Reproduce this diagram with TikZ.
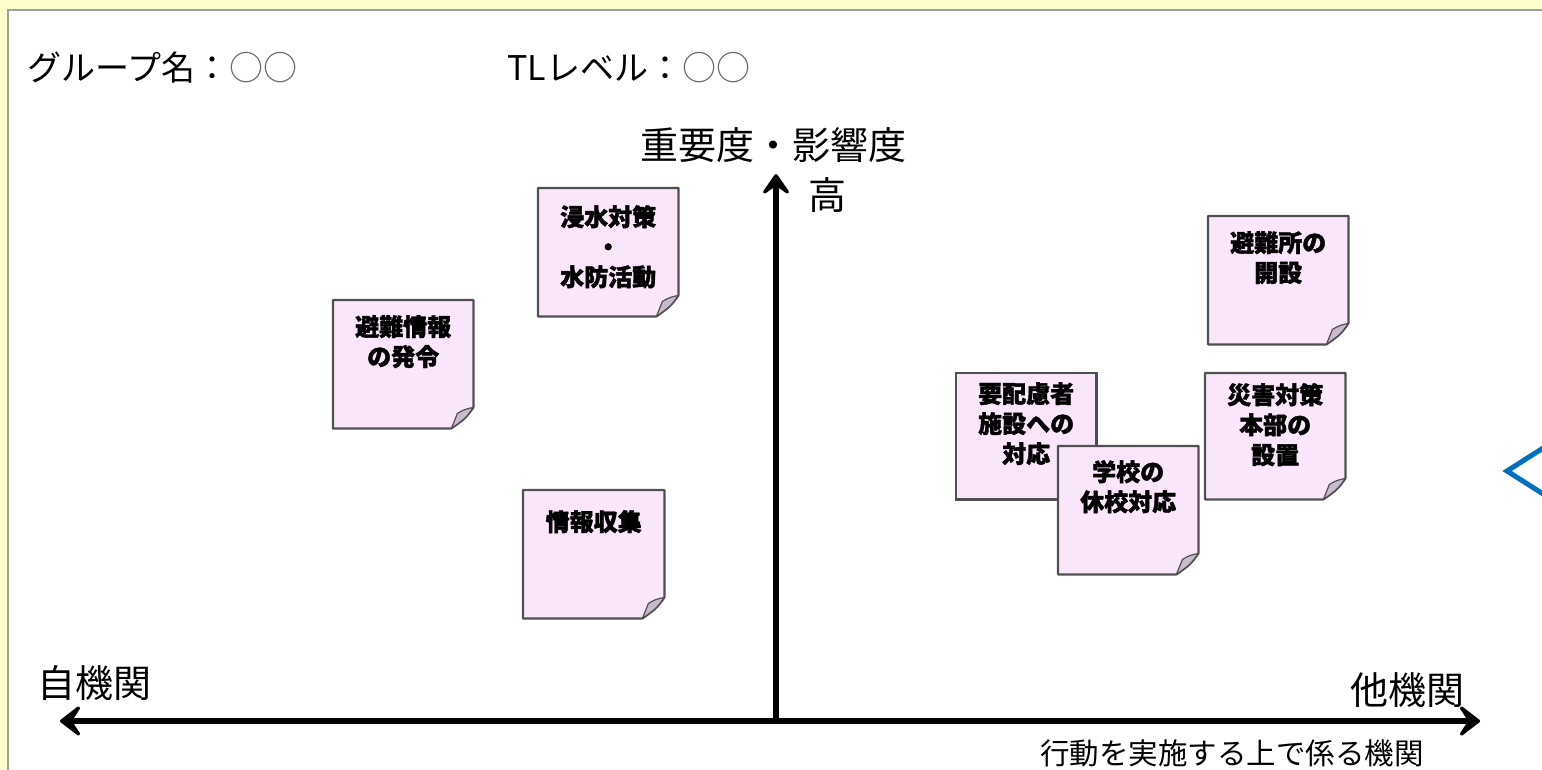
\documentclass[tikz,border=0pt]{standalone}
\usepackage{fontspec}
\setmainfont{Noto Sans CJK JP}
\newfontfamily\notefont{Noto Sans CJK JP}[BoldFeatures={FakeBold=1.6}]
\usetikzlibrary{arrows.meta,calc}
\definecolor{bgyellow}{HTML}{FFFFCC}
\definecolor{framegray}{HTML}{A0A0A0}
\definecolor{notefill}{HTML}{F9E6FA}
\definecolor{noteline}{HTML}{505050}
\definecolor{flapfill}{HTML}{C9B9CC}
\definecolor{chevblue}{HTML}{0070C0}
\definecolor{circgray}{HTML}{6A6A6A}
\tikzset{
  notebox/.style={draw=none,inner sep=0,anchor=north west},
  notetext/.style={anchor=north,inner sep=0,align=center,font=\notefont\bfseries\fontsize{24}{30}\selectfont},
  headtext/.style={inner sep=0,font=\fontsize{34}{40}\selectfont},
  axislabel/.style={inner sep=0,font=\fontsize{38}{44}\selectfont},
  axisline/.style={line width=6.5pt,{Stealth[length=26pt,width=40pt,inset=13pt,round]}-{Stealth[length=26pt,width=40pt,inset=13pt,round]}},
  axisup/.style={line width=6.5pt,-{Stealth[length=26pt,width=36pt,inset=13pt,round]}}
}
\newcommand{\stickyshape}[1]{%
  \filldraw[fill=notefill,draw=noteline,line width=2.2pt,line join=round]
    (#1.north west) -- (#1.north east) -- ($(#1.south east)+(0,-21)$)
    .. controls ($(#1.south east)+(-8,-10)$) .. ($(#1.south east)+(-22,0)$)
    -- (#1.south west) -- cycle;
  \filldraw[fill=flapfill,draw=noteline,line width=1.2pt,line join=round]
    ($(#1.south east)+(0,-21)$) .. controls ($(#1.south east)+(-9,-19)$) .. ($(#1.south east)+(-16,-15)$)
    -- ($(#1.south east)+(-22,0)$)
    .. controls ($(#1.south east)+(-8,-10)$) .. cycle;
}
\begin{document}
\begin{tikzpicture}[x=1pt,y=-1pt]
\useasboundingbox (0,0) rectangle (1542,769);
\fill[bgyellow] (0,0) rectangle (1542,769);
\fill[white] (8,10) rectangle (1560,790);
\draw[framegray,line width=2pt] (8,790) -- (8,10) -- (1560,10);

% header
\node[headtext,anchor=west] (grp) at (27,68) {グループ名：\textcolor{circgray}{○○}};
\node[headtext,anchor=west] (tl) at (507,68) {TLレベル：\textcolor{circgray}{○○}};

% axes
\coordinate (origin) at (776,721);
\coordinate (left) at (60,721);
\coordinate (right) at (1480,721);
\coordinate (top) at (776,174);
\draw[axisline] (left) -- (right);
\draw[axisup] (origin) -- (top);

\node[axislabel] (imp) at (773,145) {重要度・影響度};
\node[axislabel] (high) at (827,195) {高};
\node[axislabel] (own) at (94,683) {自機関};
\node[axislabel] (other) at (1407,690) {他機関};
\node[inner sep=0,font=\fontsize{29.5}{34}\selectfont] (rel) at (1232,753) {行動を実施する上で係る機関};

% sticky notes
\node[notebox,minimum width=140,minimum height=128] (n1) at (333,300) {};
\stickyshape{n1}
\node[notetext] (t1) at ($(n1.north)+(0,15)$) {避難情報\\の発令};

\node[notebox,minimum width=140,minimum height=128] (n2) at (538,188) {};
\stickyshape{n2}
\node[notetext] (t2) at ($(n2.north)+(0,17)$) {浸水対策\\・\\水防活動};

\node[notebox,minimum width=141,minimum height=128] (n3) at (523,490) {};
\stickyshape{n3}
\node[notetext] (t3) at ($(n3.north)+(0,20)$) {情報収集};

\node[notebox,minimum width=140,minimum height=128] (n4) at (1208,216) {};
\stickyshape{n4}
\node[notetext] (t4) at ($(n4.north)+(0,15)$) {避難所の\\開設};

\node[notebox,minimum width=140,minimum height=126] (n5) at (956,373) {};
\filldraw[fill=notefill,draw=noteline,line width=2.2pt] (n5.north west) rectangle (n5.south east);
\node[notetext] (t5) at ($(n5.north)+(0,9)$) {要配慮者\\施設への\\対応};

\node[notebox,minimum width=140,minimum height=126] (n6) at (1205,373) {};
\stickyshape{n6}
\node[notetext] (t6) at ($(n6.north)+(0,10)$) {災害対策\\本部の\\設置};

\node[notebox,minimum width=140,minimum height=128] (n7) at (1058,446) {};
\stickyshape{n7}
\node[notetext] (t7) at ($(n7.north)+(0,14)$) {学校の\\休校対応};

% blue chevron
\coordinate (chevtip) at (1507,471);
\coordinate (chevup) at (1562,436);
\coordinate (chevdn) at (1562,506);
\begin{scope}
\clip (0,0) rectangle (1542,769);
\draw[chevblue,line width=5pt,line join=miter] (chevup) -- (chevtip) -- (chevdn);
\end{scope}
\end{tikzpicture}
\end{document}
